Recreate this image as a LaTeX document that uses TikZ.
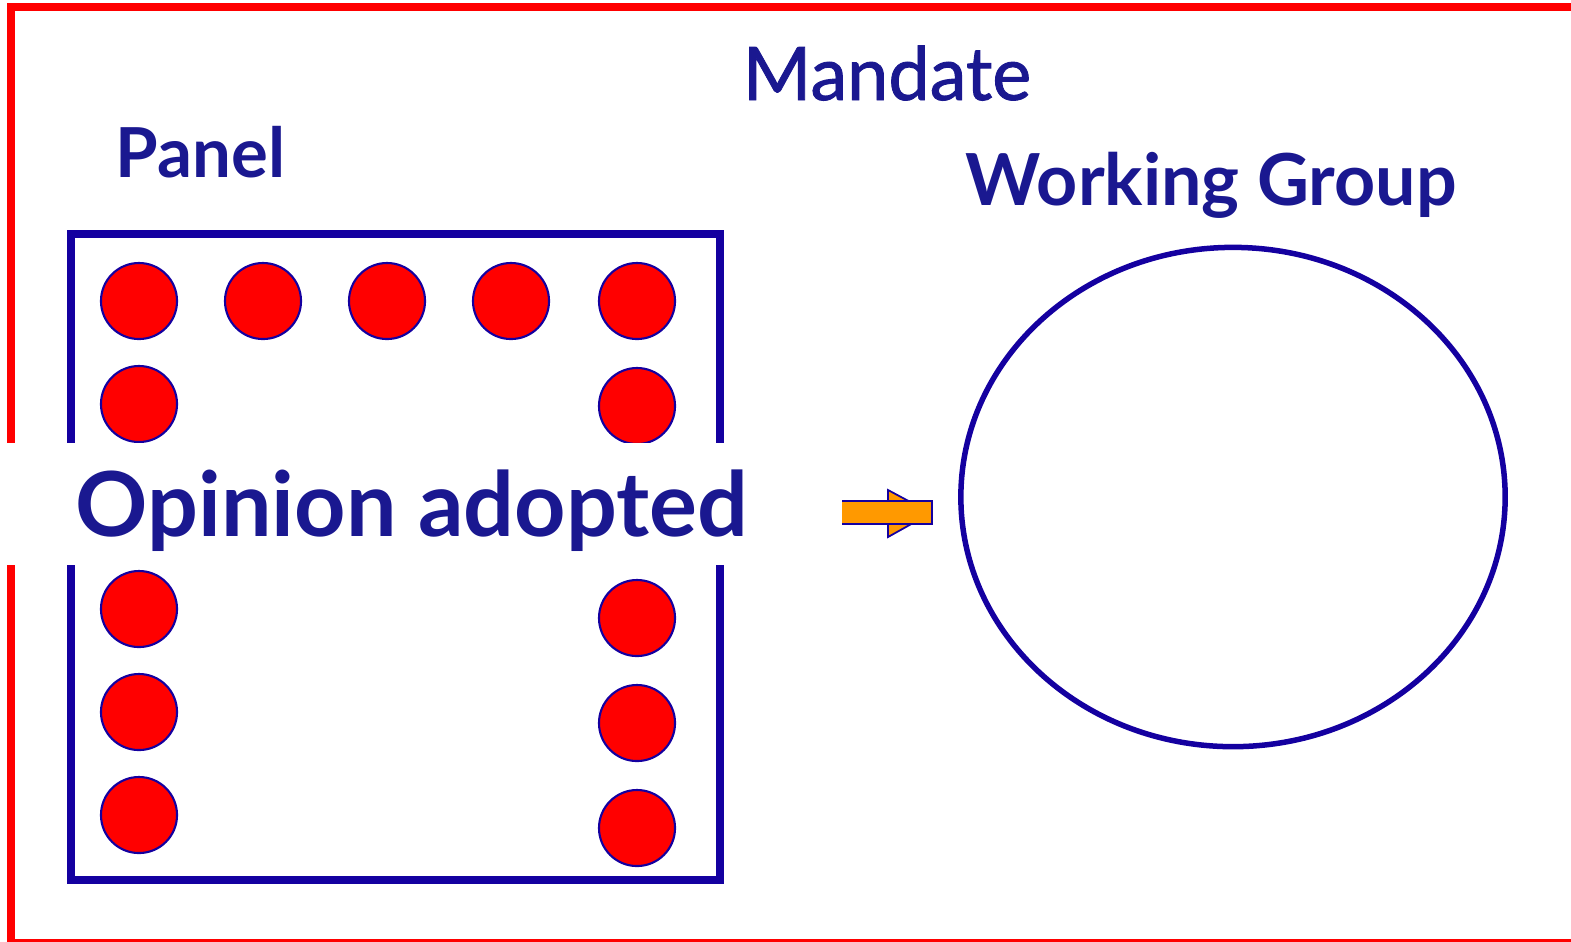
\documentclass[tikz,border=0pt]{standalone}
\usepackage{fontspec}
\setmainfont{Lato}
\newfontfamily\penfont{Lato}[FakeBold=1.2]
\usetikzlibrary{calc,shapes.geometric}
\definecolor{frameRed}{RGB}{255,0,0}
\definecolor{boxBlue}{RGB}{20,0,160}
\definecolor{inkBlue}{RGB}{26,24,144}
\definecolor{arrowOrange}{RGB}{255,153,0}

\begin{document}
\begin{tikzpicture}[x=0.01cm,y=-0.01cm,
  member/.style={circle,draw=boxBlue,fill=frameRed,line width=0.6pt,minimum size=0.76cm,inner sep=0pt},
  title/.style={text=inkBlue,inner sep=0pt}]
\useasboundingbox (0,0) rectangle (1571,941);
\clip (0,0) rectangle (1571,941);
% outer frame
\draw[frameRed,line width=0.085cm] (11,7) rectangle (1590,943);
\node[title,anchor=base,font=\penfont\fontsize{21}{21}\selectfont] (mandate) at (887,100) {Mandate};
% panel
\node[title,anchor=base west,font=\bfseries\fontsize{19.6}{20}\selectfont] (panel) at (115,177) {Panel};
\draw[boxBlue,line width=0.08cm] (71,234) rectangle (720,880);
\foreach \x [count=\i] in {139,263,387,511,637}
  \node[member] (top\i) at (\x,301) {};
\node[member] (left1) at (139,404) {};
\node[member] (right1) at (637,406) {};
\foreach \y [count=\i from 2] in {609,712,815}
  \node[member] (left\i) at (139,\y) {};
\foreach \y [count=\i from 2] in {618,723,828}
  \node[member] (right\i) at (637,\y) {};
\fill[white] (0,443) rectangle (760,565);
\node[title,anchor=base west,font=\bfseries\fontsize{25.5}{26}\selectfont] (opinion) at (75,536) {Opinion adopted};
% working group
\node[title,anchor=base west,font=\bfseries\fontsize{20.4}{21}\selectfont] (wg) at (965,205) {Working Group};
\node[ellipse,draw=boxBlue,line width=0.055cm,minimum width=5.44cm,minimum height=4.99cm,inner sep=0pt] (group) at (1233,497) {};
% arrow
\draw[boxBlue,fill=arrowOrange,line width=0.5pt] (888,490) -- (931,513) -- (888,537) -- cycle;
\fill[arrowOrange] (842,501) rectangle (932,524);
\draw[boxBlue,line width=0.8pt] (842,501) -- (932,501) -- (932,524) -- (842,524);
\end{tikzpicture}
\end{document}
